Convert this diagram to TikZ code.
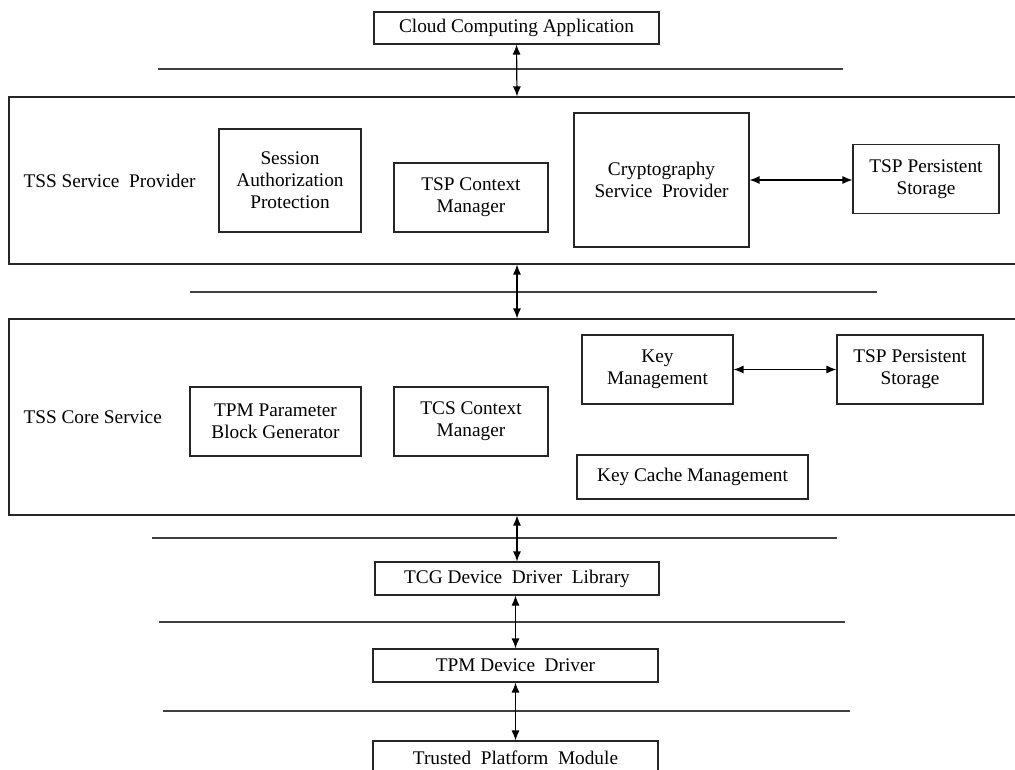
\documentclass[tikz,border=0pt]{standalone}
\usepackage{fontspec}
\setmainfont{Liberation Serif}
\usetikzlibrary{arrows.meta}
\begin{document}
\begin{tikzpicture}[x=1pt,y=-1pt,
  every node/.style={font=\fontsize{19.3}{22}\selectfont, text=black},
  box/.style={draw=black!85, line width=1.1pt, rectangle, align=center, inner sep=0pt},
  layer/.style={draw=black!85, line width=1.1pt, rectangle, inner sep=0pt},
  sep/.style={draw=black!75, line width=1.1pt},
  link/.style={draw=black, line width=1.2pt, {Latex[length=10pt,width=8pt]}-{Latex[length=10pt,width=8pt]}}
]
\useasboundingbox (0,0) rectangle (1015,770);
\clip (0,0) rectangle (1015,770);
\fill[white] (0,0) rectangle (1015,770);

% top application
\node[box, minimum width=285, minimum height=32] (cca) at (516.5,28) {Cloud Computing Application};

% service provider layer
\node[layer, minimum width=1016, minimum height=167] (tsp) at (517,180.5) {};
\node[anchor=west] (tsplbl) at (20,181) {TSS Service\ \ Provider};
\node[box, minimum width=142, minimum height=103] (sap) at (290,180.5) {Session\\Authorization\\Protection};
\node[box, minimum width=154, minimum height=69] (tspctx) at (471,197.5) {TSP Context\\Manager};
\node[box, minimum width=175, minimum height=134] (csp) at (661.5,180) {Cryptography\\Service\ \ Provider};
\node[box, minimum width=146, minimum height=69] (tsps1) at (926,179) {TSP Persistent\\Storage};

% core service layer
\node[layer, minimum width=1016, minimum height=196] (tcs) at (517,417) {};
\node[anchor=west] (tcslbl) at (20,417) {TSS Core Service};
\node[box, minimum width=171, minimum height=69] (tpmpbg) at (275.5,421.5) {TPM Parameter\\Block Generator};
\node[box, minimum width=154, minimum height=69] (tcsctx) at (471,421.5) {TCS Context\\Manager};
\node[box, minimum width=151, minimum height=69] (keym) at (657.5,369.5) {Key\\Management};
\node[box, minimum width=146, minimum height=69] (tsps2) at (910,369.5) {TSP Persistent\\Storage};
\node[box, minimum width=231, minimum height=44] (kcm) at (692.5,477) {Key Cache Management};

% lower stack
\node[box, minimum width=284, minimum height=33] (tcg) at (517,578.5) {TCG Device\ \ Driver\ \ Library};
\node[box, minimum width=285, minimum height=33] (tpmdd) at (515.5,665.5) {TPM Device\ \ Driver};
\node[box, minimum width=285, minimum height=34] (tpm) at (515.5,758) {Trusted\ \ Platform\ \ Module};

% separator lines
\coordinate (s1a) at (158,69);  \coordinate (s1b) at (843,69);
\coordinate (s2a) at (190,292); \coordinate (s2b) at (877,292);
\coordinate (s3a) at (152,538); \coordinate (s3b) at (837,538);
\coordinate (s4a) at (159,622); \coordinate (s4b) at (845,622);
\coordinate (s5a) at (163,711); \coordinate (s5b) at (850,711);
\draw[sep] (s1a) -- (s1b);
\draw[sep] (s2a) -- (s2b);
\draw[sep] (s3a) -- (s3b);
\draw[sep] (s4a) -- (s4b);
\draw[sep] (s5a) -- (s5b);

% connectors
\draw[link] (cca.south) -- (tsp.north);
\draw[link] (tsp.south) -- (tcs.north);
\draw[link] (tcs.south) -- (tcg.north);
\draw[link] (tpmdd.north |- tcg.south) -- (tpmdd.north);
\draw[link] (tpmdd.south) -- (tpm.north);
\draw[link] (csp.east) -- (csp.east -| tsps1.west);
\draw[link] (keym.east) -- (tsps2.west);
\end{tikzpicture}
\end{document}
